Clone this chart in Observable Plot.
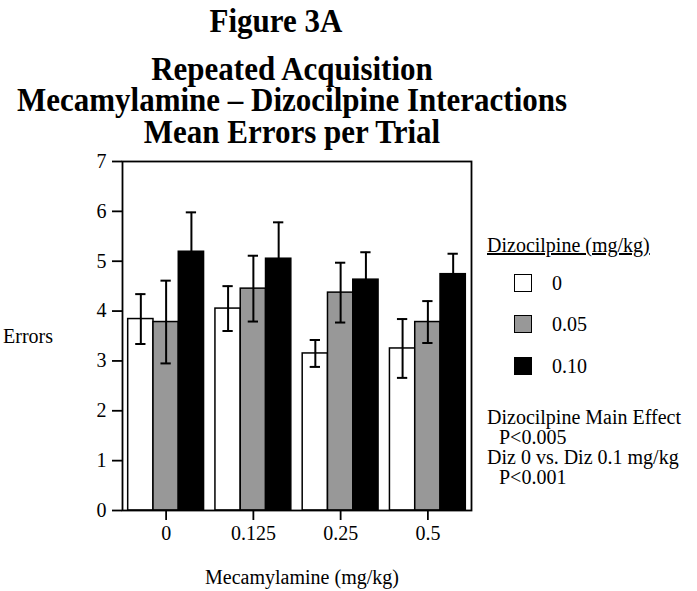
<!DOCTYPE html>
<html>
<head>
<meta charset="utf-8">
<script src="https://cdn.jsdelivr.net/npm/d3@7"></script>
<script src="https://cdn.jsdelivr.net/npm/@observablehq/plot@0.6"></script>
<style>
  html, body { margin: 0; padding: 0; background: #fff; }
  #fig { position: relative; width: 697px; height: 591px; overflow: hidden; font-family: "Liberation Serif", "Times New Roman", serif; color: #000; }
  #fig svg { position: absolute; left: 0; top: 0; }
  .t { position: absolute; white-space: nowrap; }
  .title { font-weight: bold; font-size: 31px; line-height: 29px; text-align: center; white-space: pre; transform: translateX(-50%) scaleY(1.08); transform-origin: 50% 0; }
  .lab { font-size: 20px; line-height: 20px; }
  .sw { position: absolute; width: 16px; height: 16px; border: 1.5px solid #000; }
</style>
</head>
<body>
<div id="fig"></div>
<script>
// Mecamylamine doses (x groups) and dizocilpine doses (bars within a group)
const mecamylamine = ["0", "0.125", "0.25", "0.5"];
const dizocilpine = ["0", "0.05", "0.10"];
const fills = ["#ffffff", "#989898", "#000000"];

// Mean errors per trial, one array per dizocilpine dose (ordered by mecamylamine dose)
const meanDiz0 = [3.84, 4.05, 3.15, 3.25];
const meanDiz005 = [3.78, 4.45, 4.37, 3.78];
const meanDiz010 = [5.19, 5.05, 4.63, 4.74];

// Standard errors
const seDiz0 = [0.50, 0.45, 0.27, 0.59];
const seDiz005 = [0.83, 0.66, 0.60, 0.42];
const seDiz010 = [0.79, 0.73, 0.55, 0.41];

const yTicks = [0, 1, 2, 3, 4, 5, 6, 7];

const means = [meanDiz0, meanDiz005, meanDiz010];
const ses = [seDiz0, seDiz005, seDiz010];
const data = dizocilpine.flatMap((diz, j) =>
  mecamylamine.map((mec, i) => ({mec, diz, mean: means[j][i], se: ses[j][i]}))
);

const chart = Plot.plot({
  width: 697,
  height: 591,
  marginTop: 161,
  marginBottom: 81,
  marginLeft: 122,
  marginRight: 226,
  style: {fontFamily: "'Liberation Serif', 'Times New Roman', serif", fontSize: "20px", color: "#000", background: "transparent", overflow: "visible"},
  fx: {domain: mecamylamine, padding: 0, round: false, label: null},
  x: {domain: dizocilpine, paddingInner: 0, paddingOuter: 0.225, round: false, axis: null},
  y: {domain: [0, 7], label: null},
  color: {domain: dizocilpine, range: fills},
  marks: [
    Plot.barY(data, {fx: "mec", x: "diz", y: "mean", fill: "diz", stroke: "#000", strokeWidth: 1.5}),
    Plot.ruleX(data, {fx: "mec", x: "diz", y1: d => d.mean - d.se, y2: d => d.mean + d.se, stroke: "#000", strokeWidth: 2}),
    Plot.tickY(data, {fx: "mec", x: "diz", y: d => d.mean + d.se, stroke: "#000", strokeWidth: 2, insetLeft: 7.5, insetRight: 7.5}),
    Plot.tickY(data, {fx: "mec", x: "diz", y: d => d.mean - d.se, stroke: "#000", strokeWidth: 2, insetLeft: 7.5, insetRight: 7.5}),
    Plot.frame({facet: "super", stroke: "#000", strokeWidth: 1.8}),
    Plot.axisY({ticks: yTicks, tickSize: 10, tickPadding: 6, tickFormat: d => String(d), label: null, strokeWidth: 1.8}),
    Plot.axisFx({anchor: "bottom", tickSize: 10, tickPadding: 5, label: null, strokeWidth: 1.8})
  ]
});

const fig = document.getElementById("fig");
fig.appendChild(chart);

function addText(text, cls, css) {
  const el = document.createElement("div");
  el.className = "t " + cls;
  el.textContent = text;
  Object.assign(el.style, css);
  fig.appendChild(el);
  return el;
}

// Titles
addText("Figure 3A", "title", {left: "276px", top: "5px"});
addText("Repeated Acquisition\nMecamylamine – Dizocilpine Interactions\nMean Errors per Trial", "title", {left: "292px", top: "53px"});

// Axis titles
addText("Errors", "lab", {left: "3px", top: "326px"});
addText("Mecamylamine (mg/kg)", "lab", {left: "302px", top: "567px", transform: "translateX(-50%)"});

// Legend
addText("Dizocilpine (mg/kg)", "lab", {left: "487px", top: "235px", textDecoration: "underline"});
const swTops = [274, 315, 357];
dizocilpine.forEach((d, i) => {
  const sw = document.createElement("div");
  sw.className = "sw";
  sw.style.left = "514px";
  sw.style.top = swTops[i] + "px";
  sw.style.background = fills[i];
  fig.appendChild(sw);
  addText(d, "lab", {left: "552px", top: (swTops[i] - 1) + "px"});
});

// Statistics notes
addText("Dizocilpine Main Effect", "lab", {left: "487px", top: "407px"});
addText("P<0.005", "lab", {left: "499px", top: "427px"});
addText("Diz 0 vs. Diz 0.1 mg/kg", "lab", {left: "487px", top: "447px"});
addText("P<0.001", "lab", {left: "499px", top: "467px"});
</script>
</body>
</html>
